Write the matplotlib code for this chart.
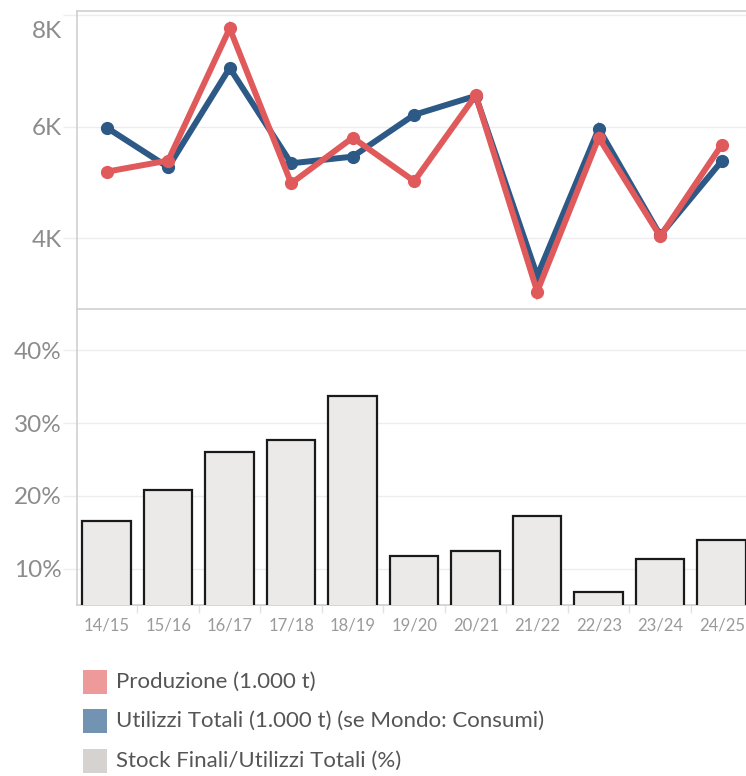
import matplotlib
matplotlib.use("Agg")
import matplotlib.pyplot as plt
import matplotlib.transforms as mtransforms
from matplotlib.patches import Rectangle
from matplotlib.ticker import FuncFormatter, FixedLocator

# seasons on the x axis
seasons = ["14/15", "15/16", "16/17", "17/18", "18/19", "19/20",
           "20/21", "21/22", "22/23", "23/24", "24/25"]

# production and total use, 1.000 t
produzione = [5190, 5390, 7760, 4980, 5800, 5020, 6560, 3040, 5800, 4030, 5670]
utilizzi = [5980, 5270, 7050, 5340, 5460, 6210, 6550, 3320, 5960, 4050, 5380]

# ending stocks over total use, %
stock_ratio = [16.6, 20.8, 26.0, 27.7, 33.7, 11.8, 12.4, 17.3, 6.8, 11.3, 14.0]

legend_labels = ["Produzione (1.000 t)",
                 "Utilizzi Totali (1.000 t) (se Mondo: Consumi)",
                 "Stock Finali/Utilizzi Totali (%)"]

RED = "#E05A5C"
BLUE = "#2D5986"
BAR_FILL = "#EBEAE8"
GRID = "#EDEDED"
SPINE = "#CFCFCF"
TICK = "#8C8C8C"
FONT = ["Lato", "DejaVu Sans"]

plt.rcParams["font.family"] = FONT

fig = plt.figure(figsize=(7.46, 7.76), dpi=100)
W, H = 746.0, 776.0

def box(left, top, right, bottom):
    return [left / W, 1 - bottom / H, (right - left) / W, (bottom - top) / H]

ax1 = fig.add_axes(box(77, 11, 746, 309))
ax2 = fig.add_axes(box(77, 309, 746, 605))

x = list(range(len(seasons)))

# --- top panel: lines ---
ax1.plot(x, utilizzi, color=BLUE, lw=4.3, marker="o", ms=8.5,
         solid_joinstyle="miter", zorder=3)
ax1.plot(x, produzione, color=RED, lw=4.3, marker="o", ms=8.5,
         solid_joinstyle="miter", zorder=4)
ax1.set_ylim(2727, 8072)
ax1.yaxis.set_major_locator(FixedLocator([4000, 6000, 8000]))
ax1.yaxis.set_major_formatter(FuncFormatter(lambda v, p: "%dK" % (v / 1000)))
ax1.set_xticks([])

# --- bottom panel: bars ---
ax2.bar(x, stock_ratio, width=0.79, bottom=0, color=BAR_FILL,
        edgecolor="#1A1A1A", linewidth=1.6, zorder=3)
ax2.set_ylim(5, 45.7)
ax2.yaxis.set_major_locator(FixedLocator([10, 20, 30, 40]))
ax2.yaxis.set_major_formatter(FuncFormatter(lambda v, p: "%d%%" % v))
ax2.set_xticks(x)
ax2.set_xticklabels(seasons)
ax2.set_xticks([i + 0.5 for i in x[:-1]] + [-0.5], minor=True)

for ax in (ax1, ax2):
    ax.set_xlim(-0.483, 10.395)
    ax.grid(axis="y", color=GRID, lw=1.0, zorder=0)
    ax.set_axisbelow(True)
    ax.spines["right"].set_visible(False)
    for s in ("left", "top", "bottom"):
        ax.spines[s].set_color(SPINE)
        ax.spines[s].set_linewidth(1.2)
    ax.tick_params(axis="y", length=10, color=GRID, width=1.0,
                   labelsize=17.5, labelcolor=TICK, pad=1)

ax1.spines["bottom"].set_visible(False)

ax2.tick_params(axis="x", which="major", length=0, labelsize=12,
                labelcolor="#9A9A9A", pad=9)
ax2.tick_params(axis="x", which="minor", length=6, color="#E3E3E3", width=1.0)

# the top label sits inside the frame
fig.canvas.draw()
for lbl in ax1.get_yticklabels():
    if lbl.get_text() == "8K":
        lbl.set_transform(lbl.get_transform() +
                          mtransforms.ScaledTranslation(0, -14 / 100, fig.dpi_scale_trans))

# --- legend ---
legend_colors = ["#EE9A9B", "#7393B3", "#D6D2CF"]
rows_y = [682, 721, 761]
for lab, col, yc in zip(legend_labels, legend_colors, rows_y):
    fig.add_artist(Rectangle((83 / W, 1 - (yc + 12) / H), 24 / W, 24 / H,
                             transform=fig.transFigure, facecolor=col,
                             edgecolor="none"))
    fig.text(116 / W, 1 - yc / H, lab, fontsize=16, color="#555555",
             va="center", ha="left")

fig.savefig("out.png", dpi=100)
